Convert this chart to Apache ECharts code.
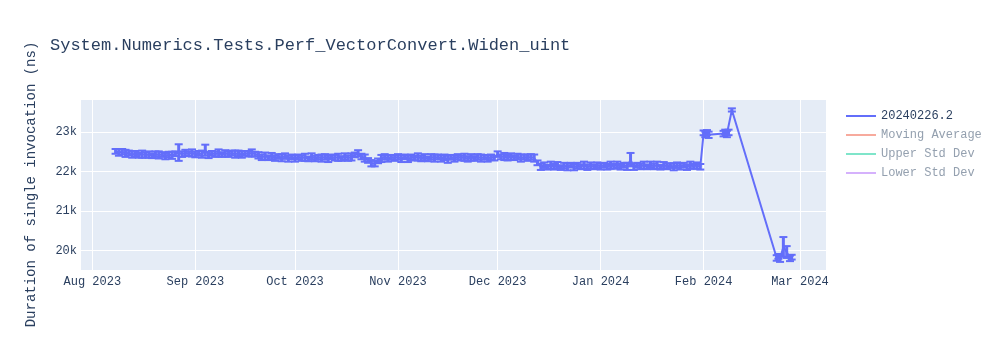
<!DOCTYPE html>
<html>
<head>
<meta charset="utf-8">
<script src="https://cdn.jsdelivr.net/npm/echarts@6/dist/echarts.min.js"></script>
<style>
html,body{margin:0;padding:0;background:#fff;}
#chart{width:1000px;height:350px;}
</style>
</head>
<body>
<div id="chart"></div>
<script>
// ---- data ----
const chartTitle = 'System.Numerics.Tests.Perf_VectorConvert.Widen_uint';
const yAxisTitle = 'Duration of single invocation (ns)';
const legendNames = ['20240226.2', 'Moving Average', 'Upper Std Dev', 'Lower Std Dev'];
const monthNames = ['Jan','Feb','Mar','Apr','May','Jun','Jul','Aug','Sep','Oct','Nov','Dec'];

// daily runs: month start (YYYY-MM, first day) + values (ns) + error (ns)
const augStart = ['2023-08', 8];
const augValues = [22510,22480,22500,22460,22470,22430,22450,22410,22440,22420,22430,22400,22440,22420,22430,22390,22430,22410,22450,22480,22440,22470,22450,22470];
const augErrors = [60,80,70,90,60,80,70,60,90,70,80,60,70,90,60,80,70,90,60,210,70,80,60,90];

const sepStart = ['2023-09', 1];
const sepValues = [22430,22460,22440,22540,22420,22460,22440,22470,22430,22460,22440,22470,22440,22460,22430,22460,22450,22470,22440,22410,22360,22390,22350,22390,22340,22380,22350,22390,22330,22370];
const sepErrors = [70,60,90,140,80,60,70,90,60,80,70,60,90,70,80,60,70,90,60,80,70,90,60,80,70,60,90,70,80,60];

const octStart = ['2023-10', 1];
const octValues = [22330,22370,22340,22360,22320,22380,22330,22360,22340,22370,22320,22370,22350,22360,22330,22380,22340,22370,22420,22460,22380,22340,22280,22210,22200,22270,22330,22370,22330,22360,22340];
const octErrors = [80,60,70,90,60,80,70,60,90,70,80,60,70,90,60,80,70,90,60,80,70,90,60,80,70,60,90,70,80,60,70];

const novStart = ['2023-11', 1];
const novValues = [22370,22330,22370,22320,22360,22340,22370,22330,22360,22320,22370,22340,22370,22330,22360,22310,22360,22330,22370,22340,22360,22320,22360,22330,22370,22340,22360,22330,22360,22340];
const novErrors = [70,90,60,80,70,60,90,70,80,60,70,90,60,80,70,90,60,80,70,60,90,70,80,60,70,90,60,80,70,60];

const decStart = ['2023-12', 1];
const decValues = [22440,22370,22380,22350,22380,22350,22380,22340,22370,22350,22370,22340,22220,22120,22160,22110,22160,22120,22160,22100,22150,22120,22160,22110,22150,22120,22160,22110,22150,22120,22160];
const decErrors = [70,60,90,70,80,60,70,90,60,80,70,90,60,80,70,60,90,70,80,60,70,90,60,80,70,60,90,70,80,60,70];

const janStart = ['2024-01', 1];
const janValues = [22130,22160,22120,22160,22130,22170,22120,22160,22130,22300,22120,22160,22130,22160,22120,22170,22130,22160,22110,22160,22130,22150,22120,22160,22130,22160,22110,22160,22130,22150,22120];
const janErrors = [80,60,70,90,60,80,70,60,90,170,80,60,70,90,60,80,70,90,60,80,70,60,90,70,80,60,70,90,60,80,70];

const febDates = ['2024-02-01 00:00','2024-02-01 12:00','2024-02-02 00:00','2024-02-02 12:00','2024-02-07 00:00','2024-02-07 12:00','2024-02-08 00:00','2024-02-08 12:00','2024-02-09 12:00','2024-02-23 00:00','2024-02-23 12:00','2024-02-24 00:00','2024-02-25 00:00','2024-02-26 00:00','2024-02-27 00:00','2024-02-27 12:00'];
const febValues = [22980,22940,22990,22930,22960,23000,22950,22990,23560,19810,19850,19790,20090,19960,19800,19830];
const febErrors = [60,70,60,80,70,60,80,70,40,70,60,80,250,150,70,60];

const xMin = '2023-07-28 07:00';
const xMax = '2024-03-08 20:00';
const yMin = 19505;
const yMax = 23837;

// ---- build series rows ----
function pad(n){ return (n < 10 ? '0' : '') + n; }
const rows = [];
function addMonth(start, vals, errs){
  for (let i = 0; i < vals.length; i++) {
    rows.push([start[0] + '-' + pad(start[1] + i), vals[i], errs[i]]);
  }
}
addMonth(augStart, augValues, augErrors);
addMonth(sepStart, sepValues, sepErrors);
addMonth(octStart, octValues, octErrors);
addMonth(novStart, novValues, novErrors);
addMonth(decStart, decValues, decErrors);
addMonth(janStart, janValues, janErrors);
for (let i = 0; i < febDates.length; i++) rows.push([febDates[i], febValues[i], febErrors[i]]);

const FONT = '"Liberation Mono", "Courier New", monospace';
const TXT = '#2a3f5f';
const MAIN = '#636efa';

const chart = echarts.init(document.getElementById('chart'), null, {renderer: 'canvas'});
chart.setOption({
  animation: false,
  backgroundColor: '#fff',
  textStyle: {fontFamily: FONT},
  title: {
    text: chartTitle, left: 50, top: 37, padding: 0,
    textStyle: {fontFamily: FONT, fontSize: 17, fontWeight: 'normal', color: TXT}
  },
  grid: {left: 80, right: 174, top: 99, bottom: 80, containLabel: false,
         show: true, backgroundColor: '#e5ecf6', borderWidth: 0},
  legend: {
    orient: 'vertical', left: 846, top: 109, padding: 0,
    icon: 'rect', itemWidth: 30, itemHeight: 2, itemGap: 5,
    selectedMode: false,
    textStyle: {fontFamily: FONT, fontSize: 12, color: TXT, lineHeight: 14},
    data: [
      {name: legendNames[0]},
      {name: legendNames[1], textStyle: {color: '#94a0af'}},
      {name: legendNames[2], textStyle: {color: '#94a0af'}},
      {name: legendNames[3], textStyle: {color: '#94a0af'}}
    ]
  },
  xAxis: {
    type: 'time', min: xMin, max: xMax,
    splitNumber: 8, maxInterval: 31 * 86400000,
    axisLine: {show: false}, axisTick: {show: false},
    splitLine: {show: true, lineStyle: {color: '#fff', width: 1}},
    axisLabel: {
      fontFamily: FONT, fontSize: 12, color: TXT, margin: 6,
      showMinLabel: false, showMaxLabel: false,
      formatter: function (v) {
        const d = new Date(v);
        if (d.getDate() !== 1 || d.getHours() !== 0) return '';
        return monthNames[d.getMonth()] + ' ' + d.getFullYear();
      }
    }
  },
  yAxis: {
    type: 'value', min: yMin, max: yMax,
    name: yAxisTitle, nameLocation: 'middle', nameRotate: 90, nameGap: 42,
    nameTextStyle: {fontFamily: FONT, fontSize: 14, color: TXT},
    axisLine: {show: false}, axisTick: {show: false},
    splitLine: {show: true, lineStyle: {color: '#fff', width: 1}},
    axisLabel: {
      fontFamily: FONT, fontSize: 12, color: TXT, margin: 3,
      showMinLabel: false, showMaxLabel: false,
      formatter: function (v) { return (Math.abs(v % 1000) < 1e-6) ? (v / 1000) + 'k' : ''; }
    }
  },
  series: [
    {
      name: legendNames[0], type: 'line', data: rows.map(r => [r[0], r[1]]),
      symbol: 'none', showSymbol: false,
      lineStyle: {color: MAIN, width: 2}, itemStyle: {color: MAIN}, z: 3
    },
    {
      name: 'errors', type: 'custom', data: rows, clip: true, z: 4,
      encode: {x: 0, y: 1},
      renderItem: function (params, api) {
        const x = api.value(0), v = api.value(1), e = api.value(2);
        const top = api.coord([x, v + e]);
        const bot = api.coord([x, v - e]);
        const w = 4;
        const st = {stroke: MAIN, lineWidth: 2};
        return {type: 'group', children: [
          {type: 'line', shape: {x1: top[0], y1: top[1], x2: bot[0], y2: bot[1]}, style: {stroke: MAIN, lineWidth: 3}},
          {type: 'line', shape: {x1: top[0] - w, y1: top[1], x2: top[0] + w, y2: top[1]}, style: st},
          {type: 'line', shape: {x1: bot[0] - w, y1: bot[1], x2: bot[0] + w, y2: bot[1]}, style: st}
        ]};
      }
    },
    {name: legendNames[1], type: 'line', data: [], symbol: 'none',
     lineStyle: {color: '#f7aa9d', width: 2}, itemStyle: {color: '#f7aa9d'}},
    {name: legendNames[2], type: 'line', data: [], symbol: 'none',
     lineStyle: {color: '#7fe5ca', width: 2}, itemStyle: {color: '#7fe5ca'}},
    {name: legendNames[3], type: 'line', data: [], symbol: 'none',
     lineStyle: {color: '#d5b1fc', width: 2}, itemStyle: {color: '#d5b1fc'}}
  ]
});
</script>
</body>
</html>
